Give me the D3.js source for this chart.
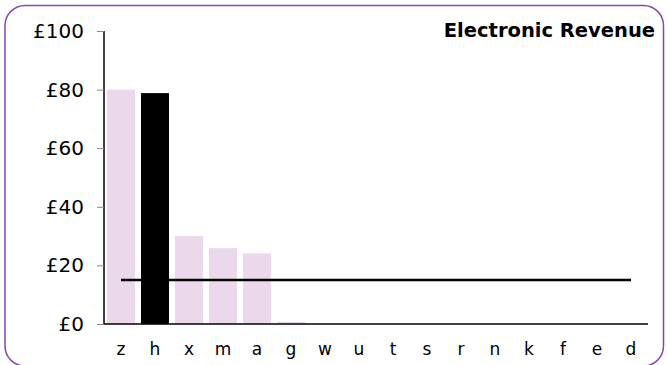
<!DOCTYPE html>
<html>
<head>
<meta charset="utf-8">
<script src="https://cdn.jsdelivr.net/npm/d3@7/dist/d3.min.js"></script>
<style>
  html, body { margin: 0; padding: 0; background: #fff; }
  svg { display: block; }
  text { font-family: "DejaVu Sans", Verdana, sans-serif; fill: #000; }
</style>
</head>
<body>
<svg id="chart" width="667" height="365"></svg>
<script>
const categories = ["z","h","x","m","a","g","w","u","t","s","r","n","k","f","e","d"];
const values = [80, 78.8, 30, 25.9, 24.1, 0.7, 0, 0, 0, 0, 0, 0, 0, 0, 0, 0];
const highlight = ["h"];
const referenceValue = [15];
const yTicks = [0, 20, 40, 60, 80, 100];
const title = "Electronic Revenue";

const svg = d3.select("#chart");
const W = 667, H = 365;
const margin = { left: 104, right: 19, top: 31, bottom: 41 };

// rounded frame
svg.append("rect")
  .attr("x", 5).attr("y", 5.5)
  .attr("width", 658.5).attr("height", 360.5)
  .attr("rx", 20).attr("ry", 20)
  .attr("fill", "none")
  .attr("stroke", "#8048b8")
  .attr("stroke-width", 1.5);

const x = d3.scaleBand()
  .domain(categories)
  .range([margin.left, W - margin.right])
  .paddingInner(0.176)
  .paddingOuter(0.088);

const y = d3.scaleLinear()
  .domain([0, 100])
  .range([H - margin.bottom, margin.top]);

// bars
svg.append("g").selectAll("rect")
  .data(categories.map((c, i) => ({ c, v: values[i] })))
  .join("rect")
  .attr("x", d => x(d.c))
  .attr("width", x.bandwidth())
  .attr("y", d => y(d.v))
  .attr("height", d => y(0) - y(d.v))
  .attr("fill", d => highlight.includes(d.c) ? "#000" : "#ebd9eb");

// y axis
const yAxis = svg.append("g")
  .attr("transform", `translate(${margin.left},0)`)
  .call(d3.axisLeft(y).tickValues(yTicks).tickFormat(d => "£" + d).tickSize(7).tickPadding(13));
yAxis.attr("font-size", null).attr("font-family", null);
yAxis.select(".domain").attr("stroke", "#000").attr("stroke-width", 1.5).attr("d", `M0,${y(100)}V${y(0)}`);
yAxis.selectAll(".tick line").attr("stroke", "#888");
yAxis.selectAll(".tick text").style("font-size", "20px");

// x axis
const xAxis = svg.append("g")
  .attr("transform", `translate(0,${y(0)})`)
  .call(d3.axisBottom(x).tickSize(0).tickPadding(19));
xAxis.attr("font-size", null).attr("font-family", null);
xAxis.select(".domain").attr("stroke", "#000").attr("stroke-width", 1.5).attr("d", `M${margin.left},0H${W - margin.right}`);
xAxis.selectAll(".tick text").style("font-size", "17px");

// reference line
const first = categories[0], last = categories[categories.length - 1];
svg.append("line")
  .attr("x1", x(first) + x.bandwidth() / 2)
  .attr("x2", x(last) + x.bandwidth() / 2)
  .attr("y1", y(referenceValue[0]))
  .attr("y2", y(referenceValue[0]))
  .attr("stroke", "#000")
  .attr("stroke-width", 2.5);

// title
svg.append("text")
  .attr("x", 655).attr("y", 37)
  .attr("text-anchor", "end")
  .style("font-size", "19.5px")
  .style("font-weight", "bold")
  .text(title);
</script>
</body>
</html>
